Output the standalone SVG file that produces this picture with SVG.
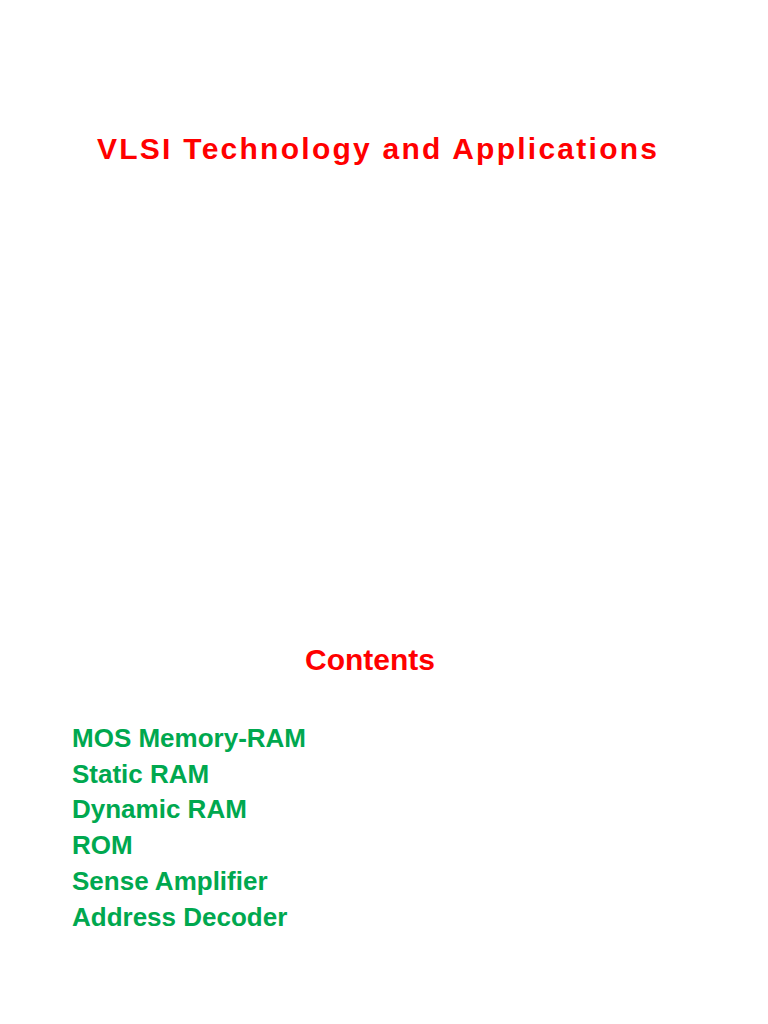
<svg xmlns="http://www.w3.org/2000/svg" width="768" height="1024" viewBox="0 0 768 1024">
<style>
.t{font-family:"Liberation Sans",Arial,sans-serif;font-weight:bold}
.r{fill:#ff0000;font-size:30px}
.g{fill:#00a84f;font-size:26px}
</style>
<rect width="768" height="1024" fill="#fff"/>
<text class="t r" x="97" y="159" textLength="560">VLSI Technology and Applications</text>
<text class="t r" x="305" y="670">Contents</text>
<g class="t g">
<text x="72" y="747">MOS Memory-RAM</text>
<text x="72" y="783">Static RAM</text>
<text x="72" y="818">Dynamic RAM</text>
<text x="72" y="854">ROM</text>
<text x="72" y="890">Sense Amplifier</text>
<text x="72" y="926">Address Decoder</text>
</g>
</svg>
